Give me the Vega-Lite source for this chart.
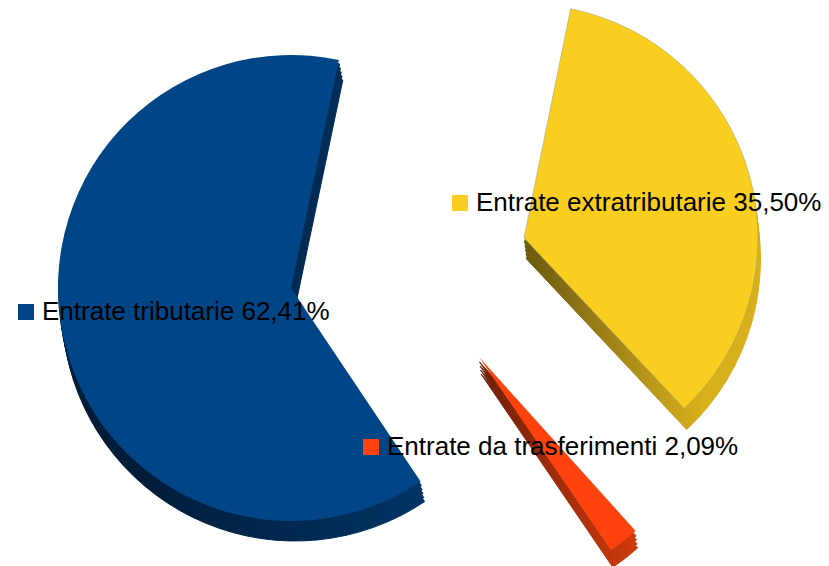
{"$schema":"https://vega.github.io/schema/vega-lite/v6.json","width":829,"height":566,"padding":0,"autosize":{"type":"fit","contains":"padding"},"background":"white","config":{"view":{"stroke":null}},
"datasets":{"slices":[
{"name":"Entrate tributarie","label":"Entrate tributarie 62,41%","share":62.41,"start":146.2,"end":371.85,"ex":291,"ey":288,"sx":26,"tx":42,"ly":312},
{"name":"Entrate extratributarie","label":"Entrate extratributarie 35,50%","share":35.5,"start":11.5,"end":136.8,"ex":524,"ey":238,"sx":460,"tx":476,"ly":203},
{"name":"Entrate da trasferimenti","label":"Entrate da trasferimenti 2,09%","share":2.09,"start":138,"end":145.7,"ex":479,"ey":357,"sx":371,"tx":387,"ly":447}
]},
"data":{"name":"slices"},
"encoding":{
"x":{"field":"ex","type":"quantitative","scale":{"domain":[0,829],"range":[0,829]},"axis":null},
"y":{"field":"ey","type":"quantitative","scale":{"domain":[0,566],"range":[0,566]},"axis":null},
"theta":{"field":"start","type":"quantitative","stack":null,"scale":{"domain":[0,360],"range":[0,6.28318]}},
"theta2":{"field":"end"}
},
"layer":[
{"transform":[{"filter":"datum.share>60"}],
"layer":[
{"mark":{"type":"arc","outerRadius":233,"xOffset":4,"yOffset":20,"fill":{"gradient":"linear","x1":0,"x2":1,"y1":0,"y2":0,"stops":[{"offset":0.2,"color":"#001c38"},{"offset":1,"color":"#013465"}]},"stroke":{"gradient":"linear","x1":0,"x2":1,"y1":0,"y2":0,"stops":[{"offset":0.2,"color":"#001c38"},{"offset":1,"color":"#013465"}]},"strokeWidth":1}},
{"mark":{"type":"arc","outerRadius":233,"xOffset":3.2,"yOffset":16,"fill":{"gradient":"linear","x1":0,"x2":1,"y1":0,"y2":0,"stops":[{"offset":0.2,"color":"#001c38"},{"offset":1,"color":"#013465"}]},"stroke":{"gradient":"linear","x1":0,"x2":1,"y1":0,"y2":0,"stops":[{"offset":0.2,"color":"#001c38"},{"offset":1,"color":"#013465"}]},"strokeWidth":1}},
{"mark":{"type":"arc","outerRadius":233,"xOffset":2.4,"yOffset":12,"fill":{"gradient":"linear","x1":0,"x2":1,"y1":0,"y2":0,"stops":[{"offset":0.2,"color":"#001c38"},{"offset":1,"color":"#013465"}]},"stroke":{"gradient":"linear","x1":0,"x2":1,"y1":0,"y2":0,"stops":[{"offset":0.2,"color":"#001c38"},{"offset":1,"color":"#013465"}]},"strokeWidth":1}},
{"mark":{"type":"arc","outerRadius":233,"xOffset":1.6,"yOffset":8,"fill":{"gradient":"linear","x1":0,"x2":1,"y1":0,"y2":0,"stops":[{"offset":0.2,"color":"#001c38"},{"offset":1,"color":"#013465"}]},"stroke":{"gradient":"linear","x1":0,"x2":1,"y1":0,"y2":0,"stops":[{"offset":0.2,"color":"#001c38"},{"offset":1,"color":"#013465"}]},"strokeWidth":1}},
{"mark":{"type":"arc","outerRadius":233,"xOffset":0.8,"yOffset":4,"fill":{"gradient":"linear","x1":0,"x2":1,"y1":0,"y2":0,"stops":[{"offset":0.2,"color":"#001c38"},{"offset":1,"color":"#013465"}]},"stroke":{"gradient":"linear","x1":0,"x2":1,"y1":0,"y2":0,"stops":[{"offset":0.2,"color":"#001c38"},{"offset":1,"color":"#013465"}]},"strokeWidth":1}},
{"mark":{"type":"arc","outerRadius":233,"fill":"#004586"}}
]},
{"transform":[{"filter":"datum.share>30 && datum.share<60"}],
"layer":[
{"mark":{"type":"arc","outerRadius":234,"xOffset":2.5,"yOffset":21,"fill":{"gradient":"linear","x1":0,"x2":1,"y1":0,"y2":0,"stops":[{"offset":0,"color":"#6b5a10"},{"offset":0.75,"color":"#d8b01c"}]},"stroke":{"gradient":"linear","x1":0,"x2":1,"y1":0,"y2":0,"stops":[{"offset":0,"color":"#6b5a10"},{"offset":0.75,"color":"#d8b01c"}]},"strokeWidth":1}},
{"mark":{"type":"arc","outerRadius":234,"xOffset":2,"yOffset":17,"fill":{"gradient":"linear","x1":0,"x2":1,"y1":0,"y2":0,"stops":[{"offset":0,"color":"#6b5a10"},{"offset":0.75,"color":"#d8b01c"}]},"stroke":{"gradient":"linear","x1":0,"x2":1,"y1":0,"y2":0,"stops":[{"offset":0,"color":"#6b5a10"},{"offset":0.75,"color":"#d8b01c"}]},"strokeWidth":1}},
{"mark":{"type":"arc","outerRadius":234,"xOffset":1.5,"yOffset":13,"fill":{"gradient":"linear","x1":0,"x2":1,"y1":0,"y2":0,"stops":[{"offset":0,"color":"#6b5a10"},{"offset":0.75,"color":"#d8b01c"}]},"stroke":{"gradient":"linear","x1":0,"x2":1,"y1":0,"y2":0,"stops":[{"offset":0,"color":"#6b5a10"},{"offset":0.75,"color":"#d8b01c"}]},"strokeWidth":1}},
{"mark":{"type":"arc","outerRadius":234,"xOffset":1,"yOffset":9,"fill":{"gradient":"linear","x1":0,"x2":1,"y1":0,"y2":0,"stops":[{"offset":0,"color":"#6b5a10"},{"offset":0.75,"color":"#d8b01c"}]},"stroke":{"gradient":"linear","x1":0,"x2":1,"y1":0,"y2":0,"stops":[{"offset":0,"color":"#6b5a10"},{"offset":0.75,"color":"#d8b01c"}]},"strokeWidth":1}},
{"mark":{"type":"arc","outerRadius":234,"xOffset":0.5,"yOffset":5,"fill":{"gradient":"linear","x1":0,"x2":1,"y1":0,"y2":0,"stops":[{"offset":0,"color":"#6b5a10"},{"offset":0.75,"color":"#d8b01c"}]},"stroke":{"gradient":"linear","x1":0,"x2":1,"y1":0,"y2":0,"stops":[{"offset":0,"color":"#6b5a10"},{"offset":0.75,"color":"#d8b01c"}]},"strokeWidth":1}},
{"mark":{"type":"arc","outerRadius":234,"fill":"#f9ce1f","stroke":"#9a9a80","strokeWidth":0.5}}
]},
{"transform":[{"filter":"datum.share<30"}],
"layer":[
{"mark":{"type":"arc","outerRadius":234,"xOffset":2,"yOffset":17,"fill":{"gradient":"linear","x1":0,"x2":1,"y1":0,"y2":0,"stops":[{"offset":0,"color":"#6e1f08"},{"offset":1,"color":"#d03a0d"}]},"stroke":{"gradient":"linear","x1":0,"x2":1,"y1":0,"y2":0,"stops":[{"offset":0,"color":"#6e1f08"},{"offset":1,"color":"#d03a0d"}]},"strokeWidth":1}},
{"mark":{"type":"arc","outerRadius":234,"xOffset":1.5,"yOffset":13,"fill":{"gradient":"linear","x1":0,"x2":1,"y1":0,"y2":0,"stops":[{"offset":0,"color":"#6e1f08"},{"offset":1,"color":"#d03a0d"}]},"stroke":{"gradient":"linear","x1":0,"x2":1,"y1":0,"y2":0,"stops":[{"offset":0,"color":"#6e1f08"},{"offset":1,"color":"#d03a0d"}]},"strokeWidth":1}},
{"mark":{"type":"arc","outerRadius":234,"xOffset":1,"yOffset":9,"fill":{"gradient":"linear","x1":0,"x2":1,"y1":0,"y2":0,"stops":[{"offset":0,"color":"#6e1f08"},{"offset":1,"color":"#d03a0d"}]},"stroke":{"gradient":"linear","x1":0,"x2":1,"y1":0,"y2":0,"stops":[{"offset":0,"color":"#6e1f08"},{"offset":1,"color":"#d03a0d"}]},"strokeWidth":1}},
{"mark":{"type":"arc","outerRadius":234,"xOffset":0.5,"yOffset":5,"fill":{"gradient":"linear","x1":0,"x2":1,"y1":0,"y2":0,"stops":[{"offset":0,"color":"#6e1f08"},{"offset":1,"color":"#d03a0d"}]},"stroke":{"gradient":"linear","x1":0,"x2":1,"y1":0,"y2":0,"stops":[{"offset":0,"color":"#6e1f08"},{"offset":1,"color":"#d03a0d"}]},"strokeWidth":1}},
{"mark":{"type":"arc","outerRadius":234,"fill":"#ff420e"}}
]},
{"mark":{"type":"square","size":256,"opacity":1},"encoding":{"x":{"field":"sx","type":"quantitative"},"y":{"field":"ly","type":"quantitative"},"theta":null,"theta2":null,"color":{"field":"name","type":"nominal","legend":null,"scale":{"domain":["Entrate tributarie","Entrate extratributarie","Entrate da trasferimenti"],"range":["#004586","#f9ce1f","#ff420e"]}}}},
{"mark":{"type":"text","align":"left","baseline":"middle","font":"Liberation Sans","fontSize":26,"color":"#000000"},"encoding":{"x":{"field":"tx","type":"quantitative"},"y":{"field":"ly","type":"quantitative"},"theta":null,"theta2":null,"text":{"field":"label"}}}
]}
